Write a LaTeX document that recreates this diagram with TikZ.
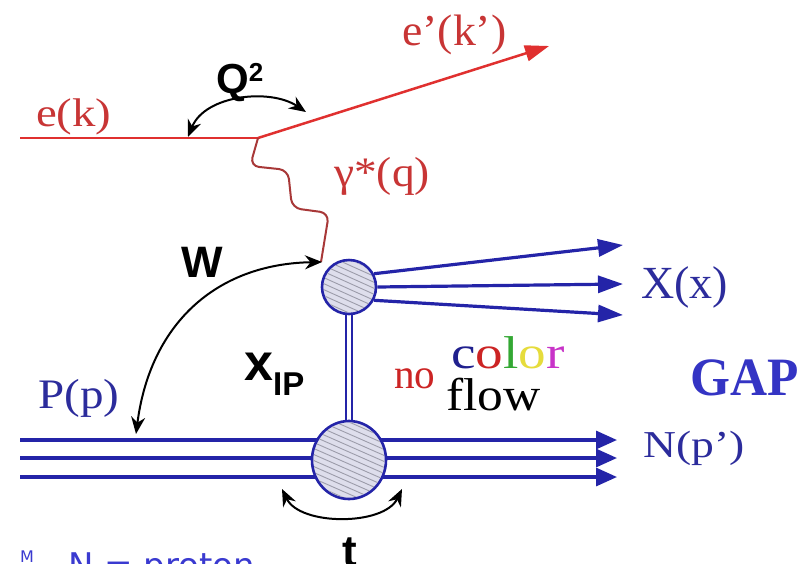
\documentclass[tikz,border=0pt]{standalone}
\usepackage{fontspec}
\usepackage{graphicx}
\setmainfont{Liberation Serif}
\setsansfont{Liberation Sans}
\newfontfamily\dejavu{DejaVu Sans}
\usetikzlibrary{arrows.meta,shapes.geometric}
\definecolor{redline}{HTML}{E0302F}
\definecolor{redtext}{HTML}{C83535}
\definecolor{photonc}{HTML}{A83838}
\definecolor{blueline}{HTML}{2424A8}
\definecolor{bluetext}{HTML}{2C2C9C}
\definecolor{gapblue}{HTML}{3434C4}
\definecolor{npblue}{HTML}{3A3AD0}
\definecolor{blobfill}{HTML}{DEDEEC}
\definecolor{hatchc}{HTML}{9C9CAA}
\definecolor{cnavy}{HTML}{20208E}
\definecolor{cred}{HTML}{CC2424}
\definecolor{cgreen}{HTML}{33A833}
\definecolor{cyellow}{HTML}{E6DC3C}
\definecolor{cmag}{HTML}{C833C8}
\newcommand\hsq[2]{\scalebox{#1}[1]{#2}}
\newcommand\fsz[1]{\fontsize{#1}{#1}\selectfont}
\begin{document}
\begin{tikzpicture}[x=1pt,y=-1pt,
  redln/.style={draw=redline, line width=2.5pt},
  photon/.style={draw=photonc, line width=2pt, rounded corners=9pt},
  blueln/.style={draw=blueline, line width=3.2pt},
  dblln/.style={draw=blueline, line width=2pt, double=white, double distance=4.4pt},
  blob/.style={draw=blueline, line width=2.6pt, fill=blobfill, inner sep=0pt},
  hatch/.style={draw=hatchc, line width=0.9pt},
  kin/.style={black, line width=2pt, {Stealth[length=17pt,width=14pt]}-{Stealth[length=17pt,width=14pt]}},
  xarrow/.style={blueln, -{Triangle[length=25pt,width=17pt]}},
  narrow/.style={blueln, -{Triangle[length=21pt,width=18pt]}},
  lbl/.style={inner sep=0pt, anchor=base west},
  kinlbl/.style={inner sep=0pt, anchor=base west, font=\sffamily\bfseries}
]
\clip (0,0) rectangle (810,563);
\fill[white] (0,0) rectangle (810,563);

% coordinates
\coordinate (ein) at (20,138);
\coordinate (vtx) at (258,138);
\coordinate (eout) at (549,46);
\coordinate (phend) at (321,262);
\coordinate (hxc) at (349,287);
\coordinate (hpc) at (349,460);
\coordinate (pl1) at (20,440); \coordinate (pr1) at (617,440);
\coordinate (pl2) at (20,458); \coordinate (pr2) at (617,458);
\coordinate (pl3) at (20,477); \coordinate (pr3) at (617,477);
\coordinate (xe1) at (623,245);
\coordinate (xe2) at (623,284);
\coordinate (xe3) at (623,315);
\coordinate (q1) at (188,137); \coordinate (q2) at (306,112);
\coordinate (w1) at (322,262); \coordinate (w2) at (136,434);
\coordinate (t1) at (282,489); \coordinate (t2) at (402,489);

% electron
\draw[redln] (ein) -- (vtx);
\draw[redln, -{Triangle[length=24pt,width=16pt]}] (vtx) -- (eout);
% photon
\draw[photon] (vtx) -- (250,166) -- (288,170) -- (292,208) -- (329,213) -- (phend);

% pomeron exchange
\draw[dblln] (hxc) -- (hpc);

% proton lines
\draw[narrow] (pl1) -- (pr1);
\draw[narrow] (pl2) -- (pr2);
\draw[narrow] (pl3) -- (pr3);

% upper blob
\node[blob, circle, minimum size=54pt] (hx) at (hxc) {};
\begin{scope}
  \clip (hxc) circle (25.4pt);
  \foreach \i in {-64,-58,...,64}
    \draw[hatch, shift={(hxc)}] (-40,\i-18) -- (40,\i+18);
\end{scope}
\draw[xarrow] (hx.28) -- (xe1);
\draw[xarrow] (hx.0) -- (xe2);
\draw[xarrow] (hx.-28) -- (xe3);

% lower blob
\node[blob, ellipse, minimum width=74pt, minimum height=78pt] (hp) at (hpc) {};
\begin{scope}
  \clip (hpc) ellipse [x radius=35.4pt, y radius=37.4pt];
  \foreach \i in {-80,-74,...,80}
    \draw[hatch, shift={(hpc)}] (-50,\i-22) -- (50,\i+22);
\end{scope}

% kinematic arcs
\draw[kin] (q1) .. controls (205,95) and (270,88) .. (q2);
\draw[kin] (w1) .. controls (215,264) and (150,325) .. (w2);
\draw[kin] (t1) .. controls (300,526) and (384,526) .. (t2);

% labels
\node[lbl, text=redtext, font=\fsz{40}] (lek) at (36,126) {\hsq{1.17}{e(k)}};
\node[lbl, text=redtext, font=\fsz{44}] (lekp) at (402,45) {\hsq{1.04}{e’(k’)}};
\node[lbl, text=redtext, font=\fsz{42}] (lgam) at (334,186) {\hsq{1.08}{γ*(q)}};
\node[lbl, text=bluetext, font=\fsz{46}] (lX) at (641,298) {\hsq{1.0}{X(x)}};
\node[lbl, text=bluetext, font=\fsz{42}] (lP) at (38,408) {\hsq{1.12}{P(p)}};
\node[lbl, text=bluetext, font=\fsz{38}] (lN) at (643,457) {\hsq{1.2}{N(p’)}};

\node[kinlbl] (lQ) at (216,93) {{\fsz{42}Q}{\fsz{26}\raisebox{11.5pt}{2}}};
\node[kinlbl, font=\sffamily\bfseries\fsz{44}] (lW) at (181,277) {W};
\node[kinlbl] (lx) at (244,380) {{\fsz{52}x}{\fsz{33}\raisebox{-15pt}{IP}}};
\node[inner sep=0pt, anchor=base, font=\sffamily\bfseries\fsz{44}] (lt) at (350,566) {t};

\node[lbl, text=cred, font=\fsz{42}] (lno) at (394,388) {\hsq{0.98}{no}};
\node[lbl, font=\fsz{46}] (lcolor) at (451,368) {\hsq{1.2}{\textcolor{cnavy}{c}\textcolor{cred}{o}\textcolor{cgreen}{l}\textcolor{cyellow}{o}\textcolor{cmag}{r}}};
\node[lbl, text=black, font=\fsz{46}] (lflow) at (446,410) {\hsq{1.12}{flow}};

\node[inner sep=0pt, anchor=base, text=gapblue, font=\bfseries\fsz{54}] (lgap) at (745,395) {\hsq{0.95}{GAP}};

\node[lbl, text=npblue, font=\dejavu\fsz{16}] (lbul) at (20,562) {M};
\node[lbl, text=npblue, font=\dejavu\fsz{34}] (lnp) at (68,577) {N = proton};
\end{tikzpicture}
\end{document}
